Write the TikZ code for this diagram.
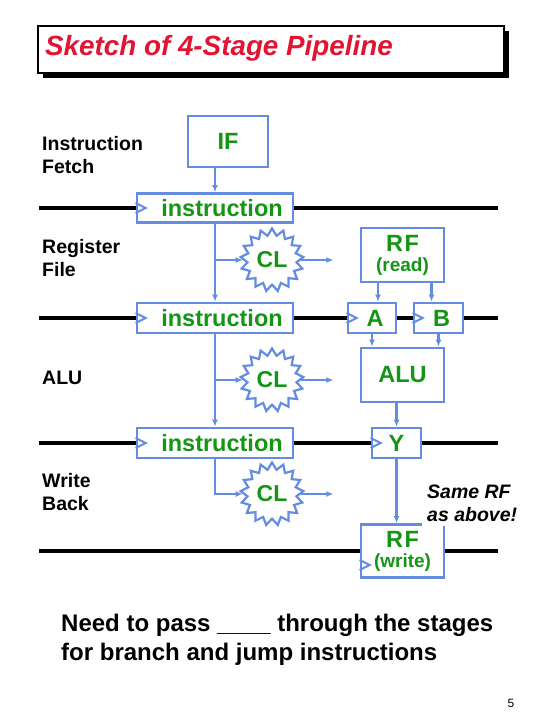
\documentclass[tikz,border=0pt]{standalone}
\usepackage{fontspec}
\setmainfont{Liberation Sans}
\usetikzlibrary{shapes.geometric,arrows.meta}
\definecolor{pipeblue}{RGB}{100,140,225}
\definecolor{pipegreen}{RGB}{20,150,20}
\definecolor{titlered}{RGB}{225,20,50}
\tikzset{
  regbox/.style={draw=pipeblue, line width=2.8pt, fill=white, text=pipegreen, inner sep=0pt,
    font=\bfseries\fontsize{23.5}{25}\selectfont},
  logic/.style={star, star points=17, star point ratio=1.28, minimum size=63pt, draw=pipeblue,
    line width=2.2pt, fill=white, text=pipegreen, inner sep=0pt, font=\bfseries\fontsize{23}{25}\selectfont},
  wire/.style={line width=3.5pt},
  bus/.style={draw=pipeblue, line width=2.5pt},
  busarrow/.style={bus, -{Latex[length=7pt,width=6pt]}},
  clock/.style={draw=pipeblue, line width=2pt, line join=miter},
  stagelabel/.style={anchor=west, align=left, inner sep=0pt, font=\bfseries\fontsize{19.5}{23}\selectfont},
}
\begin{document}
\begin{tikzpicture}[x=1pt,y=-1pt]
  \useasboundingbox (0,0) rectangle (540,720);
  % title with shadow
  \fill (43,31) rectangle (509,78);
  \node[draw, line width=1.5pt, fill=white, minimum width=466pt, minimum height=47pt,
    anchor=north west] (titlebox) at (37,25) {};
  \node[anchor=west, inner sep=0pt, text=titlered, font=\bfseries\itshape\fontsize{27.8}{30}\selectfont]
    (title) at (45,48) {Sketch of 4-Stage Pipeline};
  % stage names
  \node[stagelabel] (fetchlabel) at (42,155) {Instruction\\Fetch};
  \node[stagelabel] (rflabel) at (42,258) {Register\\File};
  \node[stagelabel] (alulabel) at (42,378) {ALU};
  \node[stagelabel] (wblabel) at (42,492) {Write\\Back};
  % left column: instruction path
  \node[regbox, minimum width=80pt, minimum height=51pt] (IF) at (228,141.5) {IF};
  \node[regbox, minimum width=156pt, minimum height=29pt] (instr1) at (215,208) {\hspace*{14pt}instruction};
  \node[regbox, minimum width=156pt, minimum height=30pt] (instr2) at (215,318) {\hspace*{14pt}instruction};
  \node[regbox, minimum width=156pt, minimum height=30pt] (instr3) at (215,443) {\hspace*{14pt}instruction};
  \node[logic] (CL1) at (272,260) {CL};
  \node[logic] (CL2) at (272,380) {CL};
  \node[logic] (CL3) at (272,494) {CL};
  % right column: data path
  \node[regbox, minimum width=83pt, minimum height=54pt, align=center,
    font=\bfseries\fontsize{19}{20}\selectfont] (RFr) at (402.5,255)
    {{\fontsize{23.5}{20}\selectfont R\kern1.5pt F}\\(read)};
  \node[regbox, minimum width=48pt, minimum height=30pt] (A) at (372,318) {\hspace*{6pt}A};
  \node[regbox, minimum width=49pt, minimum height=30pt] (B) at (438.5,318) {\hspace*{6pt}B};
  \node[regbox, minimum width=83pt, minimum height=54pt] (ALU) at (402.5,375) {ALU};
  \node[regbox, minimum width=49pt, minimum height=30pt] (Y) at (396.5,443) {Y};
  \node[regbox, minimum width=83pt, minimum height=53pt, align=center,
    font=\bfseries\fontsize{19}{20}\selectfont] (RFw) at (402.5,551)
    {{\fontsize{23.5}{20}\selectfont R\kern1.5pt F}\\(write)};
  % black stage boundaries
  \draw[wire] (instr1.west) -- ++(-97,0);
  \draw[wire] (instr1.east) -- ++(204,0);
  \draw[wire] (instr2.west) -- ++(-97,0);
  \draw[wire] (instr2.east) -- (A.west);
  \draw[wire] (A.east) -- (B.west);
  \draw[wire] (B.east) -- ++(34,0);
  \draw[wire] (instr3.west) -- ++(-97,0);
  \draw[wire] (instr3.east) -- (Y.west);
  \draw[wire] (Y.east) -- ++(76,0);
  \draw[wire] (RFw.west) -- ++(-321,0);
  \draw[wire] (RFw.east) -- ++(53,0);
  % clock inputs
  \foreach \r in {instr1,instr2,instr3,A,B,Y}
    \draw[clock] ([yshift=5pt]\r.west) -- ++(10,5) -- ++(-10,5);
  \draw[clock] ([yshift=-9pt]RFw.west) -- ++(10,5) -- ++(-10,5);
  % blue connections
  \draw[busarrow] (IF.south -| instr1.north) -- (instr1.north);
  \draw[busarrow] (instr1.south) -- (instr2.north);
  \draw[busarrow] (instr1.south |- CL1.west) -- (CL1.west);
  \draw[busarrow] (instr2.south) -- (instr3.north);
  \draw[busarrow] (instr2.south |- CL2.west) -- (CL2.west);
  \draw[busarrow] (instr3.south) |- (CL3.west);
  \draw[busarrow] (CL1.east) -- ++(32,0);
  \draw[busarrow] (CL2.east) -- ++(32,0);
  \draw[busarrow] (CL3.east) -- ++(32,0);
  \draw[busarrow] ([xshift=6pt]A.north |- RFr.south) -- ([xshift=6pt]A.north);
  \draw[busarrow] ([xshift=-7pt]B.north |- RFr.south) -- ([xshift=-7pt]B.north);
  \draw[busarrow] (A.south) -- (A.south |- ALU.north);
  \draw[busarrow] (B.south) -- (B.south |- ALU.north);
  \draw[busarrow] (Y.north |- ALU.south) -- (Y.north);
  \draw[busarrow] (Y.south) -- (Y.south |- RFw.north);
  % notes
  \node[anchor=west, align=left, fill=white, inner sep=5pt,
    font=\bfseries\itshape\fontsize{19.5}{23}\selectfont] (samerf) at (422,503) {Same RF\\as above!};
  \node[anchor=west, align=left, inner sep=0pt, font=\bfseries\fontsize{24}{29}\selectfont]
    (note) at (61,640) {Need to pass \_\_\_\_ through the stages\\for branch and jump instructions};
  \node[font=\fontsize{12}{14}\selectfont] (pagenum) at (511,703) {5};
\end{tikzpicture}
\end{document}
